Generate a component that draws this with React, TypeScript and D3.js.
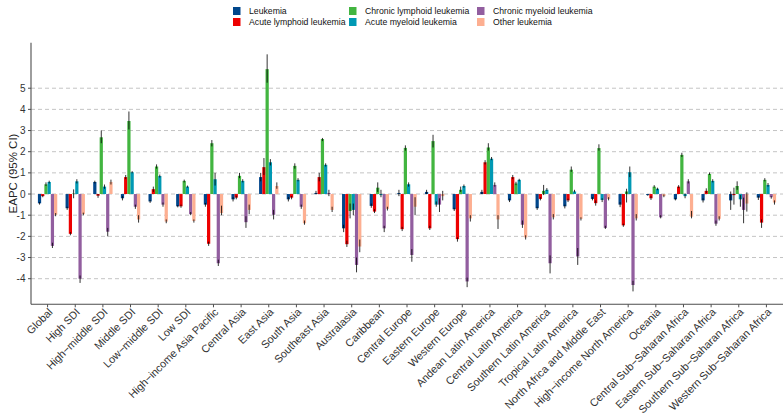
import React from 'react';
import * as d3 from 'd3';

// EAPC of leukemia subtypes by region, [value, lower, upper]
const categories = [
  'Global', 'High SDI', 'High−middle SDI', 'Middle SDI', 'Low−middle SDI', 'Low SDI',
  'High−income Asia Pacific', 'Central Asia', 'East Asia', 'South Asia', 'Southeast Asia',
  'Australasia', 'Caribbean', 'Central Europe', 'Eastern Europe', 'Western Europe',
  'Andean Latin America', 'Central Latin America', 'Southern Latin America',
  'Tropical Latin America', 'North Africa and Middle East', 'High−income North America',
  'Oceania', 'Central Sub−Saharan Africa', 'Eastern Sub−Saharan Africa',
  'Southern Sub−Saharan Africa', 'Western Sub−Saharan Africa'
];

const leukemia = [
  [-0.44, -0.5, -0.38], [-0.67, -0.75, -0.6], [0.57, 0.5, 0.63], [-0.2, -0.3, -0.1],
  [-0.35, -0.42, -0.28], [-0.58, -0.63, -0.52], [-0.5, -0.6, -0.42], [-0.25, -0.35, -0.15],
  [0.8, 0.6, 1.0], [-0.25, -0.35, -0.15], [0.05, -0.02, 0.15], [-1.62, -1.8, -1.45],
  [-0.56, -0.65, -0.45], [0.05, -0.1, 0.2], [0.1, 0.0, 0.2], [-0.72, -0.8, -0.65],
  [0.1, 0.0, 0.2], [-0.3, -0.38, -0.22], [-0.67, -0.75, -0.6], [-0.58, -0.68, -0.5],
  [-0.23, -0.3, -0.15], [-0.5, -0.62, -0.38], [-0.05, -0.08, -0.02], [-0.25, -0.3, -0.18],
  [-0.3, -0.4, -0.2], [-0.3, -0.75, 0.12], [-0.17, -0.28, -0.1]
];
const acuteLymphoid = [
  [-0.1, -0.15, -0.05], [-1.88, -1.95, -1.8], [-0.08, -0.18, 0.0], [0.8, 0.7, 0.9],
  [0.23, 0.1, 0.35], [-0.58, -0.65, -0.5], [-2.35, -2.45, -2.25], [-0.17, -0.25, -0.08],
  [1.27, 0.9, 1.7], [-0.17, -0.25, -0.1], [0.8, 0.6, 1.0], [-2.37, -2.5, -2.2],
  [-0.83, -0.9, -0.72], [-1.66, -1.75, -1.55], [-1.62, -1.7, -1.5], [-2.13, -2.25, -2.05],
  [1.5, 1.4, 1.6], [0.8, 0.7, 0.9], [-0.23, -0.3, -0.15], [-0.3, -0.38, -0.22],
  [-0.43, -0.55, -0.3], [-1.48, -1.55, -1.4], [-0.2, -0.28, -0.1], [0.35, 0.28, 0.42],
  [0.15, 0.05, 0.27], [-0.05, -0.5, 0.3], [-1.35, -1.6, -1.2]
];
const chronicLymphoid = [
  [0.46, 0.38, 0.55], [0.02, -0.2, 0.22], [2.68, 2.4, 3.0], [3.45, 3.05, 3.9],
  [1.3, 1.2, 1.4], [0.62, 0.55, 0.68], [2.4, 2.25, 2.55], [0.86, 0.75, 1.0],
  [5.9, 5.26, 6.6], [1.33, 1.2, 1.45], [2.6, 2.5, 2.65], [-0.8, -1.15, -0.45],
  [0.3, 0.1, 0.55], [2.18, 2.05, 2.3], [2.5, 2.2, 2.8], [0.2, 0.1, 0.35],
  [2.2, 2.05, 2.4], [0.5, 0.42, 0.58], [0.15, -0.05, 0.43], [1.15, 1.05, 1.3],
  [2.17, 2.05, 2.35], [0.12, -0.4, 0.25], [0.35, 0.3, 0.42], [1.85, 1.75, 1.95],
  [0.95, 0.9, 1.02], [0.38, 0.2, 0.6], [0.67, 0.6, 0.75]
];
const acuteMyeloid = [
  [0.57, 0.5, 0.63], [0.6, 0.5, 0.7], [0.35, 0.25, 0.45], [1.03, 0.98, 1.08],
  [0.85, 0.78, 0.92], [0.35, 0.3, 0.4], [0.7, 0.4, 1.0], [0.62, 0.55, 0.7],
  [1.5, 1.35, 1.65], [0.67, 0.6, 0.75], [1.38, 1.3, 1.45], [-0.75, -1.0, -0.45],
  [-0.05, -0.15, 0.2], [0.46, 0.35, 0.55], [-0.5, -0.6, -0.35], [0.38, 0.3, 0.45],
  [1.67, 1.6, 1.75], [0.67, 0.6, 0.72], [0.2, 0.15, 0.28], [0.12, 0.08, 0.2],
  [-0.28, -0.38, -0.2], [1.03, 0.8, 1.3], [0.25, 0.18, 0.3], [-0.1, -0.2, 0.02],
  [0.62, 0.55, 0.7], [-0.25, -0.6, -0.05], [0.43, 0.35, 0.52]
];
const chronicMyeloid = [
  [-2.45, -2.55, -2.3], [-4.0, -4.2, -3.85], [-1.78, -2.0, -1.6], [-0.6, -0.7, -0.5],
  [-0.5, -0.6, -0.4], [-0.95, -1.0, -0.85], [-3.27, -3.4, -3.1], [-1.33, -1.6, -1.05],
  [-0.98, -1.2, -0.75], [-0.6, -0.7, -0.5], [0.05, -0.1, 0.2], [-3.35, -3.7, -3.0],
  [-1.62, -1.8, -1.5], [-2.88, -3.2, -2.6], [-0.5, -0.85, -0.2], [-4.13, -4.4, -3.95],
  [0.43, 0.35, 0.55], [-1.45, -1.6, -1.25], [-3.27, -3.75, -2.9], [-2.95, -3.35, -2.55],
  [-1.6, -1.65, -1.5], [-4.3, -4.6, -4.1], [-1.1, -1.15, -1.0], [0.6, 0.5, 0.7],
  [-1.4, -1.5, -1.25], [-0.75, -1.38, -0.17], [-0.15, -0.22, -0.1]
];
const otherLeukemia = [
  [-0.98, -1.05, -0.9], [-0.95, -1.0, -0.88], [0.57, 0.45, 0.68], [-1.2, -1.35, -1.0],
  [-1.3, -1.38, -1.2], [-1.27, -1.35, -1.2], [-0.9, -1.0, -0.55], [-0.75, -0.95, -0.5],
  [0.38, 0.25, 0.55], [-1.38, -1.45, -1.25], [-0.75, -0.85, -0.6], [-2.48, -2.75, -2.15],
  [-0.7, -0.78, -0.6], [-0.6, -1.0, -0.15], [-0.1, -0.3, 0.15], [-1.15, -1.3, -1.0],
  [-1.2, -1.65, -1.0], [-2.05, -2.15, -1.95], [-1.1, -1.2, -0.95], [-1.17, -1.25, -1.1],
  [-0.23, -0.3, -0.15], [-1.15, -1.25, -0.95], [-0.1, -0.15, -0.02], [-1.07, -1.15, -0.8],
  [-1.17, -1.25, -1.05], [-0.45, -0.83, 0.08], [-0.4, -0.5, -0.3]
];

const seriesNames = [
  'Leukemia', 'Acute lymphoid leukemia', 'Chronic lymphoid leukemia',
  'Acute myeloid leukemia', 'Chronic myeloid leukemia', 'Other leukemia'
];
const seriesData = [leukemia, acuteLymphoid, chronicLymphoid, acuteMyeloid, chronicMyeloid, otherLeukemia];
const colors = ['#00468B', '#ED0000', '#42B540', '#0099B4', '#925E9F', '#FDAF91'];
const yTicks = [-4, -3, -2, -1, 0, 1, 2, 3, 4, 5];

const W = 784, H = 418;
const margin = { top: 42.7, right: 1, bottom: 113.7, left: 31 };
const font = '"Liberation Sans", Arial, Helvetica, sans-serif';

export default function App() {
  const x = d3.scalePoint<string>()
    .domain(categories)
    .range([margin.left, W - margin.right])
    .padding(0.6);
  const step = x.step();
  const xSub = d3.scaleBand<string>()
    .domain(seriesNames)
    .range([-0.35 * step, 0.35 * step]);
  const y = d3.scaleLinear()
    .domain([-5.21, 7.15])
    .range([H - margin.bottom, margin.top]);
  const color = d3.scaleOrdinal<string, string>().domain(seriesNames).range(colors);

  const x0 = margin.left, x1 = W - margin.right;
  const yBottom = H - margin.bottom;

  // legend: 3 columns x 2 rows, filled by column
  const legendCols = [233, 349, 477];
  const legendRows = [7, 18];

  return (
    <svg width={W} height={H} style={{ position: 'absolute', left: 0, top: 0, background: '#fff' }}
      fontFamily={font}>
      {/* grid */}
      {yTicks.map(t => (
        <line key={'g' + t} x1={x0} x2={x1} y1={y(t)} y2={y(t)}
          stroke="#c4c4c4" strokeWidth={1} strokeDasharray="4,3" />
      ))}

      {/* bars */}
      {seriesData.map((ser, si) => (
        <g key={'s' + si} fill={color(seriesNames[si])}>
          {ser.map((d, ci) => {
            const bx = (x(categories[ci]) as number) + (xSub(seriesNames[si]) as number);
            const top = y(Math.max(0, d[0]));
            const bot = y(Math.min(0, d[0]));
            return <rect key={ci} x={bx} y={top} width={xSub.bandwidth()} height={Math.max(0.3, bot - top)} />;
          })}
        </g>
      ))}

      {/* error bars */}
      {seriesData.map((ser, si) => (
        <g key={'e' + si} stroke="#000" strokeOpacity={0.8} strokeWidth={1}>
          {ser.map((d, ci) => {
            const cx = (x(categories[ci]) as number) + (xSub(seriesNames[si]) as number) + xSub.bandwidth() / 2;
            return <line key={ci} x1={cx} x2={cx} y1={y(d[1])} y2={y(d[2])} />;
          })}
        </g>
      ))}

      {/* axes */}
      <line x1={x0} x2={x0} y1={margin.top} y2={yBottom} stroke="#4d4d4d" strokeWidth={1.1} />
      <line x1={x0} x2={x1} y1={yBottom} y2={yBottom} stroke="#4d4d4d" strokeWidth={1.1} />
      {yTicks.map(t => (
        <g key={'yt' + t}>
          <line x1={x0 - 3} x2={x0} y1={y(t)} y2={y(t)} stroke="#4d4d4d" strokeWidth={1} />
          <text x={x0 - 5.5} y={y(t)} dy="0.35em" textAnchor="end" fontSize={10} fill="#333">{t}</text>
        </g>
      ))}
      {categories.map(c => {
        const cx = x(c) as number;
        return (
          <g key={'xt' + c}>
            <line x1={cx} x2={cx} y1={yBottom} y2={yBottom + 3} stroke="#4d4d4d" strokeWidth={1} />
            <text transform={`translate(${cx},${yBottom + 3}) rotate(-45)`} textAnchor="end" dy="0.72em"
              fontSize={10.8} fill="#333">{c}</text>
          </g>
        );
      })}
      <text transform={`translate(13,${(margin.top + yBottom) / 2}) rotate(-90)`} textAnchor="middle"
        dy="0.35em" fontSize={11.5} fill="#222">EAPC (95% CI)</text>

      {/* legend */}
      {seriesNames.map((s, i) => {
        const lx = legendCols[Math.floor(i / 2)];
        const ly = legendRows[i % 2];
        return (
          <g key={'l' + s}>
            <rect x={lx} y={ly} width={7.5} height={8} fill={color(s)} />
            <text x={lx + 16} y={ly + 4} dy="0.35em" fontSize={8.7} fill="#111">{s}</text>
          </g>
        );
      })}
    </svg>
  );
}
